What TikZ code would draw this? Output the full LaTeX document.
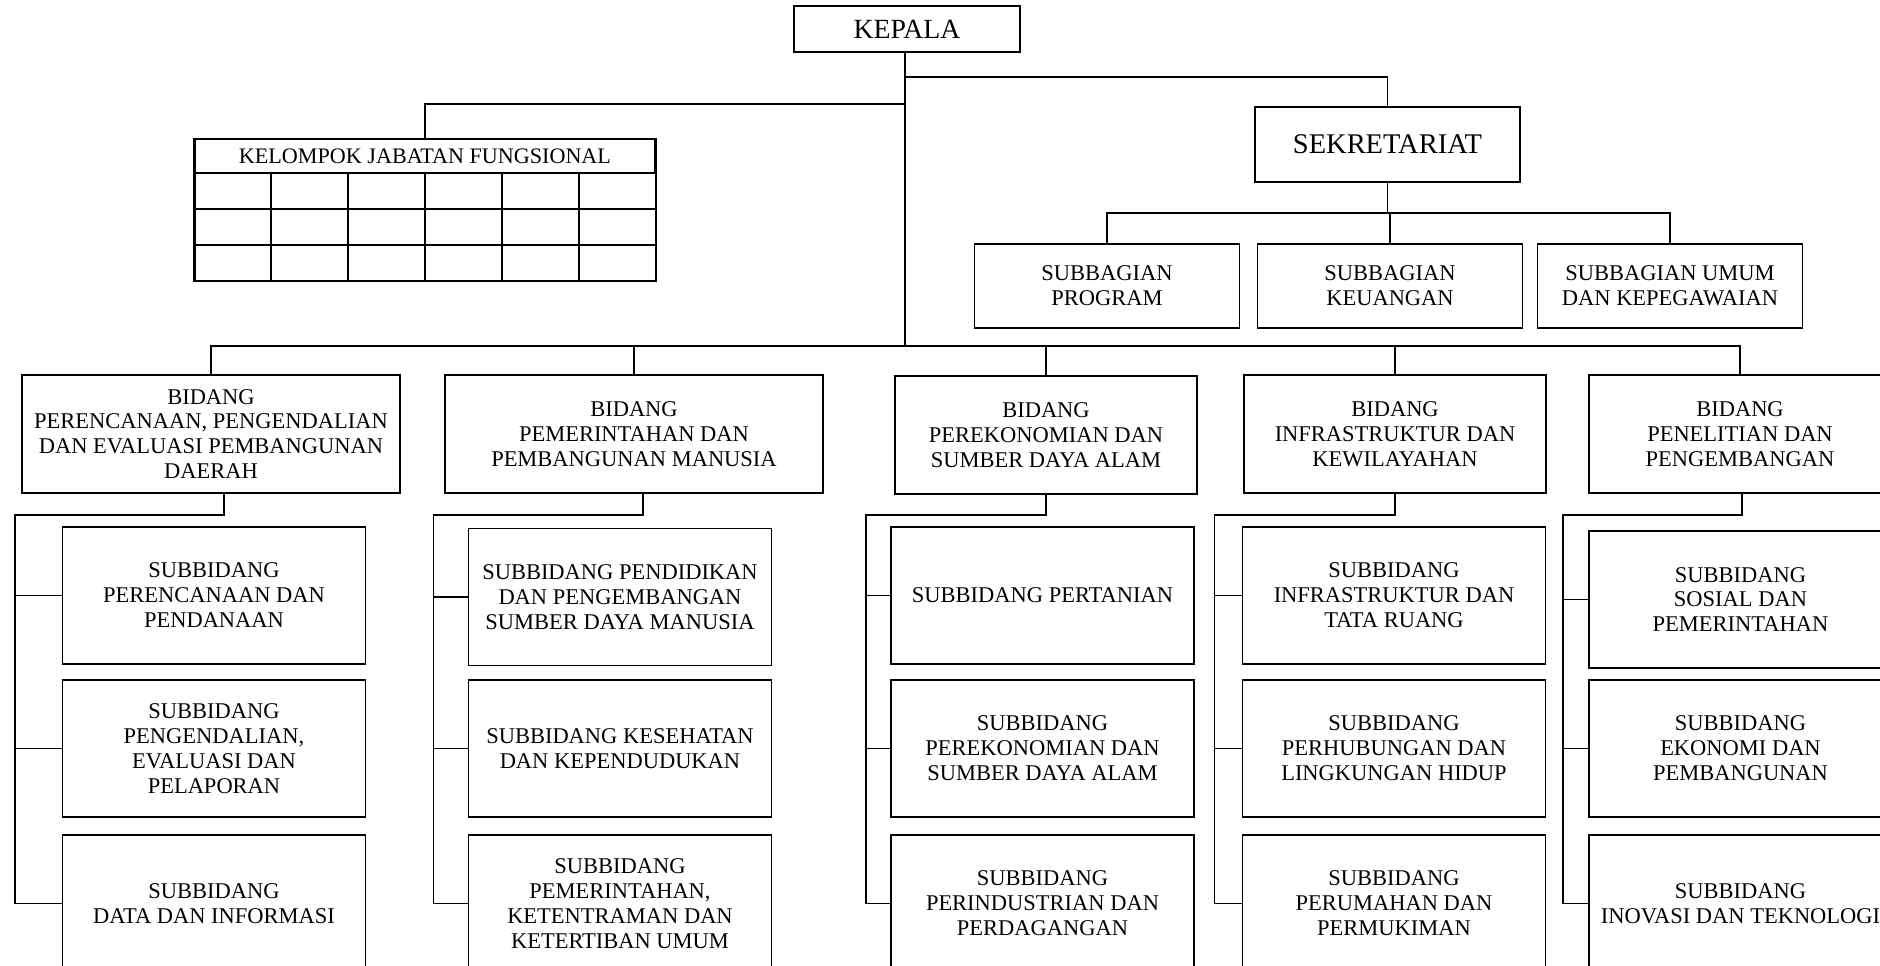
\documentclass[tikz,border=0pt]{standalone}
\usepackage{fontspec}
\setmainfont{Liberation Serif}
\usepackage{tikz}

\begin{document}
\begin{tikzpicture}[x=0.02cm, y=-0.02cm,
        box/.style={draw, line width=0.9pt, align=center, inner sep=0pt, font=\fontsize{12.8}{14.2}\selectfont},
        bidbox/.style={box, minimum height=2.36cm},
        subbox/.style={box, minimum width=6.06cm, minimum height=2.74cm},
        link/.style={line width=0.8pt},
        tbl/.style={line width=1.2pt}]
        \useasboundingbox (0,0) rectangle (1880,966);
        \clip (0,0) rectangle (1880,966);

        \node[box, minimum width=4.52cm, minimum height=0.92cm, font=\fontsize{15.8}{17}\selectfont] (kepala) at (907,29) {KEPALA};
        \node[box, minimum width=5.3cm, minimum height=1.5cm, font=\fontsize{16.2}{18}\selectfont] (sekret) at (1387.5,144.5) {SEKRETARIAT};

        \node[box, minimum width=5.3cm, minimum height=1.68cm] (sbprog) at (1107,286) {SUBBAGIAN\\PROGRAM};
        \node[box, minimum width=5.3cm, minimum height=1.68cm] (sbkeu) at (1390,286) {SUBBAGIAN\\KEUANGAN};
        \node[box, minimum width=5.3cm, minimum height=1.68cm] (sbumum) at (1670,286) {SUBBAGIAN UMUM\\DAN KEPEGAWAIAN};

        % kelompok jabatan fungsional
        \node[draw, tbl, minimum width=9.22cm, minimum height=0.68cm, inner sep=0pt, font=\fontsize{12.6}{14}\selectfont] (kjf) at (425,156) {KELOMPOK JABATAN FUNGSIONAL};
        \foreach \i in {0,...,5}
            \foreach \j in {0,1,2}
                \draw[tbl] (194.5+\i*76.85, 173+\j*36) rectangle ++(76.85,36);

        % bidang
        \node[bidbox, minimum width=7.56cm] (bid1) at (211,434) {BIDANG\\PERENCANAAN, PENGENDALIAN\\DAN EVALUASI PEMBANGUNAN\\DAERAH};
        \node[bidbox, minimum width=7.56cm] (bid2) at (634,434) {BIDANG\\PEMERINTAHAN DAN\\PEMBANGUNAN MANUSIA};
        \node[bidbox, minimum width=6.04cm] (bid3) at (1046,435) {BIDANG\\PEREKONOMIAN DAN\\SUMBER DAYA ALAM};
        \node[bidbox, minimum width=6.04cm] (bid4) at (1395,434) {BIDANG\\INFRASTRUKTUR DAN\\KEWILAYAHAN};
        \node[bidbox, minimum width=6.04cm] (bid5) at (1740,434) {BIDANG\\PENELITIAN DAN\\PENGEMBANGAN};

        % subbidang
        \node[subbox] (sub11) at (214,595.5) {SUBBIDANG\\PERENCANAAN DAN\\PENDANAAN};
        \node[subbox] (sub12) at (214,748.5) {SUBBIDANG\\PENGENDALIAN,\\EVALUASI DAN\\PELAPORAN};
        \node[subbox] (sub13) at (214,903.5) {SUBBIDANG\\DATA DAN INFORMASI};

        \node[subbox] (sub21) at (620,597) {SUBBIDANG PENDIDIKAN\\DAN PENGEMBANGAN\\SUMBER DAYA MANUSIA};
        \node[subbox] (sub22) at (620,748.5) {SUBBIDANG KESEHATAN\\DAN KEPENDUDUKAN};
        \node[subbox] (sub23) at (620,903.5) {SUBBIDANG\\PEMERINTAHAN,\\KETENTRAMAN DAN\\KETERTIBAN UMUM};

        \node[subbox] (sub31) at (1042.5,595.5) {SUBBIDANG PERTANIAN};
        \node[subbox] (sub32) at (1042.5,748.5) {SUBBIDANG\\PEREKONOMIAN DAN\\SUMBER DAYA ALAM};
        \node[subbox] (sub33) at (1042.5,903.5) {SUBBIDANG\\PERINDUSTRIAN DAN\\PERDAGANGAN};

        \node[subbox] (sub41) at (1394,595.5) {SUBBIDANG\\INFRASTRUKTUR DAN\\TATA RUANG};
        \node[subbox] (sub42) at (1394,748.5) {SUBBIDANG\\PERHUBUNGAN DAN\\LINGKUNGAN HIDUP};
        \node[subbox] (sub43) at (1394,903.5) {SUBBIDANG\\PERUMAHAN DAN\\PERMUKIMAN};

        \node[subbox] (sub51) at (1740.5,599.5) {SUBBIDANG\\SOSIAL DAN\\PEMERINTAHAN};
        \node[subbox] (sub52) at (1740.5,748.5) {SUBBIDANG\\EKONOMI DAN\\PEMBANGUNAN};
        \node[subbox] (sub53) at (1740.5,903.5) {SUBBIDANG\\INOVASI DAN TEKNOLOGI};

        % lines
        \coordinate (bus) at (905,346);
        \coordinate (sekbr) at (905,77);
        \coordinate (kjfbr) at (905,104);
        \coordinate (sbbus) at (1387.5,213);
        \draw[link] (kepala.south -| bus) -- (bus);
        \draw[link] (sekbr) -| (sekret.north);
        \draw[link] (kjfbr) -| (kjf.north);
        \draw[link] (sekret.south) -- (sbbus);
        \foreach \s in {sbprog, sbkeu, sbumum}
            \draw[link] (sbbus) -| (\s.north);
        \foreach \b in {bid1, bid2, bid3, bid4, bid5}
            \draw[link] (bus) -| (\b.north);

        \coordinate (rail1) at (15,515);
        \coordinate (rail2) at (433.5,515);
        \coordinate (rail3) at (866,515);
        \coordinate (rail4) at (1214.6,515);
        \coordinate (rail5) at (1563,515);
        \foreach \c/\dx in {1/13, 2/9, 3/0, 4/0, 5/2} {
            \draw[link] ([xshift=\dx*0.02cm]bid\c.south) |- (rail\c) |- (sub\c3.west);
            \draw[link] (rail\c |- sub\c1.west) -- (sub\c1.west);
            \draw[link] (rail\c |- sub\c2.west) -- (sub\c2.west);
        }
\end{tikzpicture}
\end{document}
